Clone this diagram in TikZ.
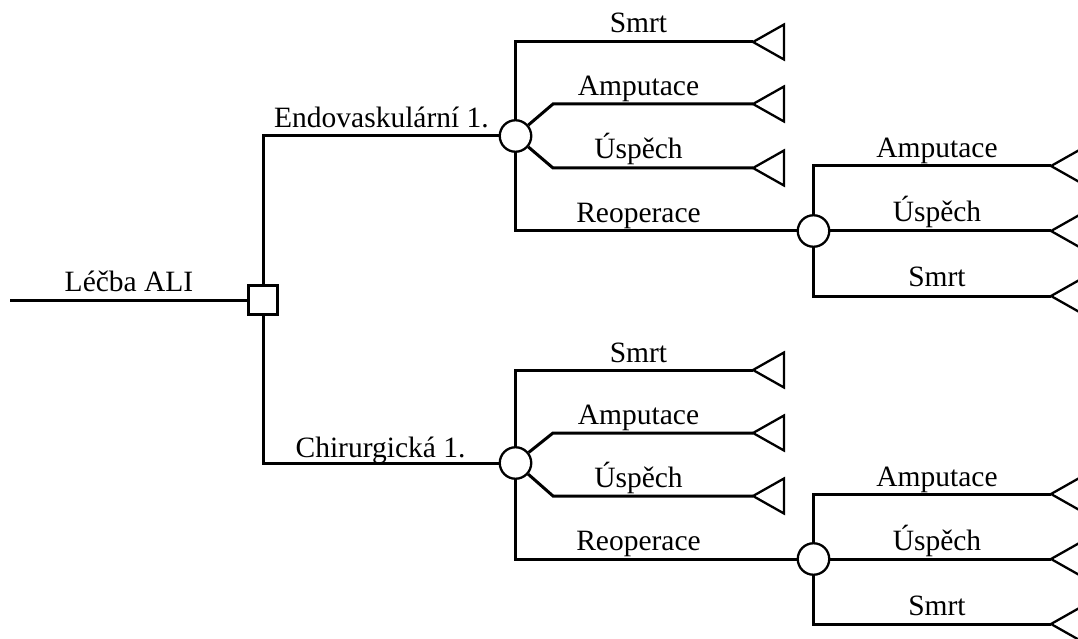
\documentclass[tikz,border=0pt]{standalone}
\usepackage{fontspec}
\setmainfont{Liberation Serif}
\begin{document}
\begin{tikzpicture}[x=1bp,y=-1bp,
  ln/.style={line width=3bp},
  chance/.style={circle,draw,line width=2.3bp,fill=white,minimum size=31.5bp,inner sep=0pt},
  decision/.style={rectangle,draw,line width=2.8bp,fill=white,minimum size=29.5bp,inner sep=0pt},
  lbl/.style={anchor=base,inner sep=0pt,font=\fontsize{29.6pt}{34pt}\selectfont},
  term/.style={line width=2.3bp,line join=miter}]
\useasboundingbox (0,0) rectangle (1078,639);
\fill[white] (0,0) rectangle (1078,639);
\clip (0,0) rectangle (1078,639);

% root
\node[decision] (d) at (263,300) {};
\coordinate (s) at (10,300);
\draw[ln] (s) -- (d);
\node[lbl] (lA) at (129,292) {Léčba ALI};

% first-level chance nodes
\node[chance] (c1) at (515.5,136) {};
\node[chance] (c2) at (515.5,463) {};
\draw[ln] (d) |- (c1);
\draw[ln] (d) |- (c2);
\node[lbl] (lE) at (381.5,128) {Endovaskulární 1.};
\node[lbl] (lC) at (380.5,457) {Chirurgická 1.};

% second-level chance nodes
\node[chance] (c3) at (813.5,231) {};
\node[chance] (c4) at (813.5,559) {};

% terminal coordinates
\coordinate (e11) at (753,42);
\coordinate (b12) at (553,104);
\coordinate (e12) at (753,104);
\coordinate (b13) at (553,168);
\coordinate (e13) at (753,168);
\coordinate (e31) at (1051,166);
\coordinate (e32) at (1051,231);
\coordinate (e33) at (1051,296);

\coordinate (e21) at (753,370);
\coordinate (b22) at (553,433);
\coordinate (e22) at (753,433);
\coordinate (b23) at (553,496);
\coordinate (e23) at (753,496);
\coordinate (e41) at (1051,494);
\coordinate (e42) at (1051,559);
\coordinate (e43) at (1051,624);

% top branches
\draw[ln] (c1) |- (e11);
\draw[ln] (c1) -- (b12) -- (e12);
\draw[ln] (c1) -- (b13) -- (e13);
\draw[ln] (c1) |- (c3);
\draw[ln] (c3) |- (e31);
\draw[ln] (c3) -- (e32);
\draw[ln] (c3) |- (e33);

% bottom branches
\draw[ln] (c2) |- (e21);
\draw[ln] (c2) -- (b22) -- (e22);
\draw[ln] (c2) -- (b23) -- (e23);
\draw[ln] (c2) |- (c4);
\draw[ln] (c4) |- (e41);
\draw[ln] (c4) -- (e42);
\draw[ln] (c4) |- (e43);

% terminal triangles
\foreach \e in {e11,e12,e13,e31,e32,e33,e21,e22,e23,e41,e42,e43}
  \draw[term] (\e) -- ++(31,-17.5) -- ++(0,35) -- cycle;

% labels
\node[lbl] (l11) at (638.5,33) {Smrt};
\node[lbl] (l12) at (638.5,96) {Amputace};
\node[lbl] (l13) at (638.5,159) {Úspěch};
\node[lbl] (l14) at (638.5,223) {Reoperace};
\node[lbl] (l31) at (937,158) {Amputace};
\node[lbl] (l32) at (937,222) {Úspěch};
\node[lbl] (l33) at (937,287) {Smrt};

\node[lbl] (l21) at (638.5,362) {Smrt};
\node[lbl] (l22) at (638.5,424) {Amputace};
\node[lbl] (l23) at (638.5,487) {Úspěch};
\node[lbl] (l24) at (638.5,550) {Reoperace};
\node[lbl] (l41) at (937,486) {Amputace};
\node[lbl] (l42) at (937,550) {Úspěch};
\node[lbl] (l43) at (937,615) {Smrt};
\end{tikzpicture}
\end{document}
